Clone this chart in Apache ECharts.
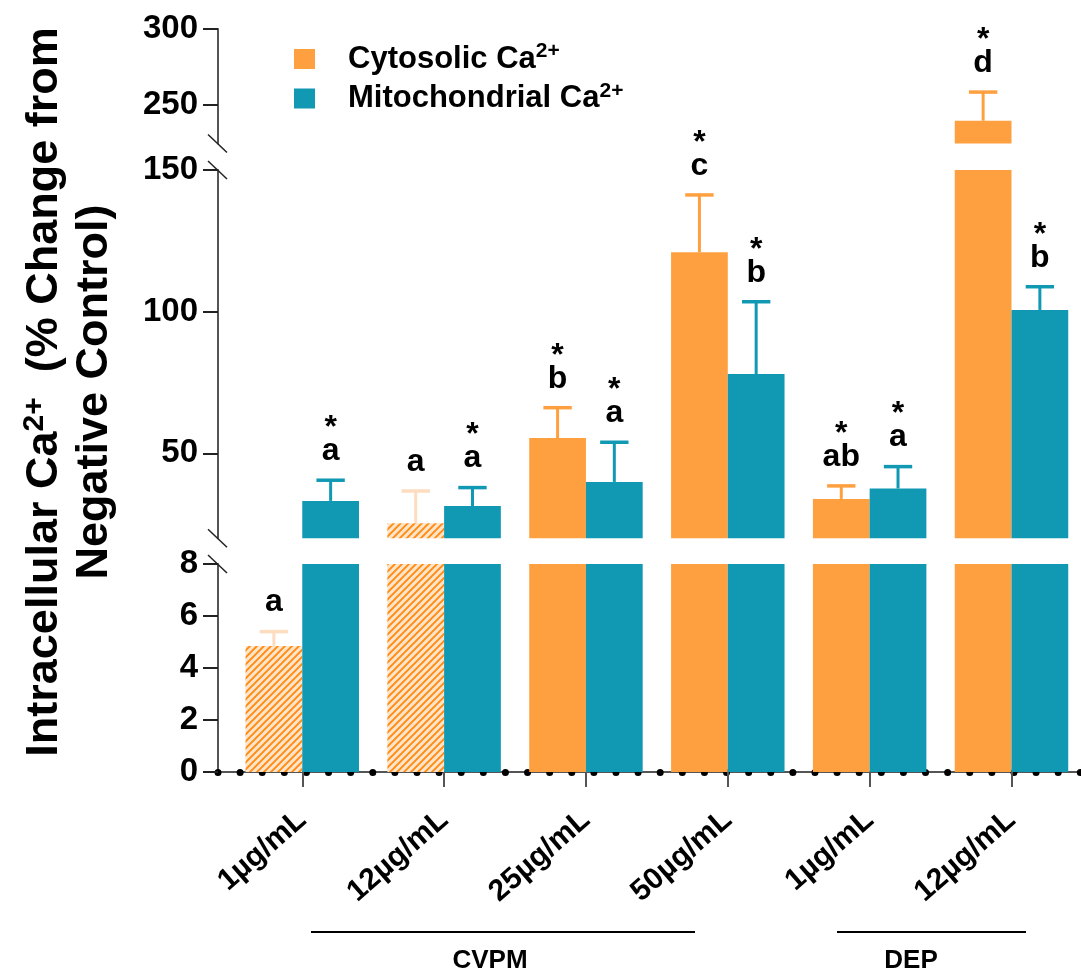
<!DOCTYPE html>
<html><head><meta charset="utf-8">
<script src="https://cdn.jsdelivr.net/npm/echarts@6/dist/echarts.min.js"></script>
<style>html,body{margin:0;padding:0;background:#fff}#c{width:1081px;height:972px}</style>
</head><body><div id="c"></div>
<script>
// ---------------- data ----------------
const doseLabels = ['1µg/mL', '12µg/mL', '25µg/mL', '50µg/mL', '1µg/mL', '12µg/mL'];
const groupNames = ['CVPM', 'DEP'];
const seriesNames = ['Cytosolic', 'Mitochondrial'];
const cytoMean = [4.85, 25.3, 55.4, 121.0, 33.9, 239.5];
const cytoSem  = [0.55, 11.4, 10.7, 20.2, 4.6, 18.9];
const mitoMean = [33.2, 31.4, 39.9, 78.0, 37.6, 100.6];
const mitoSem  = [7.3, 6.5, 14.0, 25.5, 7.7, 8.2];
const cytoLetters = ['a', 'a', 'b', 'c', 'ab', 'd'];
const mitoLetters = ['a', 'a', 'a', 'b', 'a', 'b'];
const cytoStar = [false, false, true, true, true, true];
const mitoStar = [true, true, true, true, true, true];
const topTicks = [250, 300];
const middleTicks = [50, 100, 150];
const bottomTicks = [0, 2, 4, 6, 8];

// ---------------- style / layout ----------------
const FONT = '"Liberation Sans", Arial, Helvetica, sans-serif';
const CYTO = '#FFA040', MITO = '#1199B4';
const HATCH_FILL = '#FFE4C8', HATCH_LINE = '#FF8A12', ERR_LIGHT = '#FDDCBF';
const AXIS_GRAY = '#555';
const GRID_LEFT = 218, GRID_RIGHT = 0, W = 1081;
const X_MIN = -0.594, X_MAX = 5.49;
const PX_PER_UNIT = (W - GRID_LEFT - GRID_RIGHT) / (X_MAX - X_MIN);
const BAR_W = 0.4 * PX_PER_UNIT;
const CAP_W = 0.5 * BAR_W;

const segments = [
  { min: 224.5, max: 300, ticks: topTicks, top: 29, height: 114.5 },
  { min: 20, max: 150, ticks: middleTicks, top: 170, height: 368.3 },
  { min: 0, max: 8, ticks: bottomTicks, top: 564, height: 208 }
];

function hatchPattern() {
  const s = 7;
  const c = document.createElement('canvas');
  c.width = s; c.height = s;
  const g = c.getContext('2d');
  g.fillStyle = HATCH_FILL; g.fillRect(0, 0, s, s);
  g.strokeStyle = HATCH_LINE; g.lineWidth = 1.9;
  g.beginPath();
  for (const k of [0, s, 2 * s]) { g.moveTo(k - s - 1, s + 1); g.lineTo(k + 1, -1); }
  g.stroke();
  return { image: c, repeat: 'repeat' };
}
const HATCH = hatchPattern();

const grids = [], xAxes = [], yAxes = [], series = [];
segments.forEach((seg, k) => {
  grids.push({ left: GRID_LEFT, right: GRID_RIGHT, top: seg.top, height: seg.height });
  const isBottom = k === segments.length - 1;
  xAxes.push({
    type: 'value', gridIndex: k, min: X_MIN, max: X_MAX, position: 'bottom',
    show: isBottom, splitLine: { show: false },
    axisLine: { show: true, onZero: false, lineStyle: { color: AXIS_GRAY, width: 2 } },
    axisTick: { show: true, customValues: doseLabels.map((_, i) => i), length: 15, inside: false,
      lineStyle: { color: AXIS_GRAY, width: 2 } },
    axisLabel: { show: true, customValues: doseLabels.map((_, i) => i), rotate: 41, margin: 44,
      formatter: v => doseLabels[Math.round(v)], color: '#000', fontFamily: FONT, fontWeight: 'bold', fontSize: 30 }
  });
  yAxes.push({
    type: 'value', gridIndex: k, min: seg.min, max: seg.max,
    splitLine: { show: false },
    axisLine: { show: true, onZero: false, lineStyle: { color: AXIS_GRAY, width: 2 } },
    axisTick: { show: true, customValues: seg.ticks, length: 15, lineStyle: { color: '#222', width: 2 } },
    axisLabel: { customValues: seg.ticks, margin: 20, color: '#000', fontFamily: FONT, fontWeight: 'bold', fontSize: 33 }
  });
});
// dotted decoration along the bottom x axis
xAxes.push({
  type: 'value', gridIndex: 2, min: X_MIN, max: X_MAX, position: 'bottom',
  axisLine: { show: true, onZero: false, lineStyle: { color: '#000', width: 7, type: [0.01, 22.1], cap: 'round' } },
  axisTick: { show: false }, axisLabel: { show: false }, splitLine: { show: false }
});

function barSeries(k, name, means, color, hatchFlags) {
  const seg = segments[k];
  return {
    type: 'bar', name, xAxisIndex: k, yAxisIndex: k, barWidth: BAR_W, barGap: '0%', clip: true,
    itemStyle: { color }, silent: true,
    data: means.map((m, i) => {
      const item = { value: [i, m > seg.min ? m : '-'] };
      if (hatchFlags && hatchFlags[i]) item.itemStyle = { color: HATCH };
      return item;
    })
  };
}

function errSeries(k, means, sems, letters, stars, side, color, lightFlags) {
  const seg = segments[k];
  return {
    type: 'custom', xAxisIndex: k, yAxisIndex: k, z: 5, silent: true, clip: false,
    encode: { x: 0, y: [1, 2] },
    data: means.map((m, i) => [i, m, m + sems[i]]),
    renderItem(params, api) {
      const i = api.value(0), m = api.value(1), e = api.value(2);
      if (e < seg.min || e > seg.max) return null;
      const lo = Math.max(m, seg.min);
      const pb = api.coord([i, lo]), pt = api.coord([i, e]);
      const cx = pb[0] + side * BAR_W / 2;
      const col = lightFlags && lightFlags[i] ? ERR_LIGHT : color;
      const children = [
        { type: 'line', shape: { x1: cx, y1: pb[1], x2: cx, y2: pt[1] }, style: { stroke: col, lineWidth: 3 } },
        { type: 'line', shape: { x1: cx - CAP_W / 2, y1: pt[1], x2: cx + CAP_W / 2, y2: pt[1] }, style: { stroke: col, lineWidth: 3.5 } },
        { type: 'text', style: { text: letters[i], x: cx, y: pt[1] - 29, align: 'center', verticalAlign: 'middle',
            font: 'bold 32px ' + FONT, fill: '#000' } }
      ];
      if (stars[i]) children.push({ type: 'text', style: { text: '*', x: cx, y: pt[1] - 52, align: 'center', verticalAlign: 'middle',
            font: 'bold 32px ' + FONT, fill: '#000' } });
      return { type: 'group', children };
    }
  };
}

const cytoHatched = cytoStar.map(s => !s);
segments.forEach((seg, k) => {
  series.push(barSeries(k, seriesNames[0], cytoMean, CYTO, cytoHatched));
  series.push(barSeries(k, seriesNames[1], mitoMean, MITO, null));
  series.push(errSeries(k, cytoMean, cytoSem, cytoLetters, cytoStar, -1, CYTO, cytoHatched));
  series.push(errSeries(k, mitoMean, mitoSem, mitoLetters, mitoStar, 1, MITO, null));
});

// axis break marks (at the ends of each axis segment facing a gap)
const breakYs = [segments[0].top + segments[0].height, segments[1].top,
                 segments[1].top + segments[1].height, segments[2].top];
const graphic = breakYs.map(y => ({
  type: 'line', shape: { x1: GRID_LEFT - 10, y1: y - 9, x2: GRID_LEFT + 9, y2: y + 9 },
  style: { stroke: '#222', lineWidth: 1.5 }, z: 10
}));
// group brackets below the axis
const groupSpans = [[311, 695, 490], [837, 1026, 911]];
groupSpans.forEach((g, j) => {
  graphic.push({ type: 'line', shape: { x1: g[0], y1: 932, x2: g[1], y2: 932 }, style: { stroke: '#000', lineWidth: 2 } });
  graphic.push({ type: 'text', x: g[2], y: 961, style: { text: groupNames[j], align: 'center', verticalAlign: 'middle',
    font: 'bold 26px ' + FONT, fill: '#000' } });
});
// y axis title
graphic.push({
  type: 'text', x: 70, y: 392, rotation: Math.PI / 2,
  style: {
    text: '{m|Intracellular Ca}{s|2+}{m|  (% Change from}\n{m|Negative Control)}',
    align: 'center', verticalAlign: 'middle', fill: '#000',
    rich: {
      m: { font: 'bold 45px ' + FONT, lineHeight: 50, fill: '#000' },
      s: { font: 'bold 30px ' + FONT, lineHeight: 30, verticalAlign: 'top', fill: '#000' }
    }
  }
});

const chart = echarts.init(document.getElementById('c'), null, { renderer: 'canvas' });
chart.setOption({
  animation: false,
  backgroundColor: '#fff',
  grid: grids, xAxis: xAxes, yAxis: yAxes, series,
  legend: {
    left: 289, top: 36, orient: 'vertical', icon: 'rect', itemWidth: 21, itemHeight: 20, itemGap: 6,
    data: seriesNames, selectedMode: false,
    formatter: n => '{b|' + n + ' Ca}{s|2+}',
    textStyle: {
      padding: [0, 0, 0, 28],
      rich: {
        b: { fontFamily: FONT, fontWeight: 'bold', fontSize: 31, lineHeight: 36, color: '#000' },
        s: { fontFamily: FONT, fontWeight: 'bold', fontSize: 21, lineHeight: 12, verticalAlign: 'top', color: '#000' }
      }
    }
  },
  graphic
});
</script></body></html>
